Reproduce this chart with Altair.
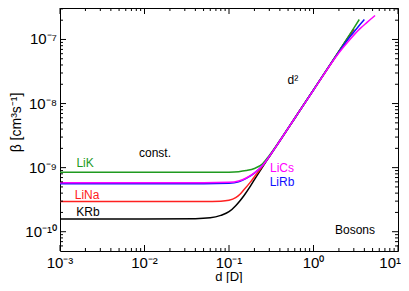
import altair as alt
import pandas as pd

# ---- data ----
series_names = ["KRb", "LiNa", "LiK", "LiRb", "LiCs"]
series_colors = ["#000000", "#ff2020", "#1f9a1f", "#1010ff", "#ff00ff"]

d_KRb = [0.001, 0.01, 0.04, 0.06, 0.08, 0.1, 0.12, 0.135, 0.15, 0.18, 0.2, 0.25, 0.3, 0.4, 0.6, 1.0, 2.0, 3.0]
b_KRb = [1.58e-10, 1.58e-10, 1.6e-10, 1.65e-10, 1.8e-10, 2.05e-10, 2.55e-10, 3.05e-10, 3.65e-10, 5.2e-10,
         6.5e-10, 1.03e-9, 1.48e-9, 2.62e-9, 5.9e-9, 1.64e-8, 6.5e-8, 1.45e-7]

d_LiNa = [0.001, 0.01, 0.05, 0.08, 0.1, 0.12, 0.135, 0.15, 0.18, 0.2, 0.25, 0.3, 0.4, 0.6, 1.0, 2.0, 3.0]
b_LiNa = [2.97e-10, 2.97e-10, 2.97e-10, 3.0e-10, 3.1e-10, 3.4e-10, 3.85e-10, 4.5e-10, 6.0e-10, 7.2e-10,
          1.06e-9, 1.5e-9, 2.63e-9, 5.9e-9, 1.64e-8, 6.5e-8, 1.45e-7]

d_LiK = [0.001, 0.01, 0.05, 0.1, 0.13, 0.16, 0.2, 0.25, 0.3, 0.4, 0.6, 1.0, 2.0, 3.0, 3.48]
b_LiK = [8.45e-10, 8.45e-10, 8.45e-10, 8.5e-10, 8.65e-10, 9.0e-10, 9.7e-10, 1.15e-9, 1.55e-9, 2.65e-9,
         5.9e-9, 1.64e-8, 6.6e-8, 1.5e-7, 2.05e-7]

d_LiRb = [0.001, 0.01, 0.05, 0.1, 0.13, 0.16, 0.2, 0.25, 0.3, 0.4, 0.6, 1.0, 2.0, 2.7, 3.4, 4.0]
b_LiRb = [5.6e-10, 5.6e-10, 5.6e-10, 5.7e-10, 6.0e-10, 6.8e-10, 8.2e-10, 1.08e-9, 1.5e-9, 2.63e-9,
          5.9e-9, 1.63e-8, 6.4e-8, 1.1e-7, 1.6e-7, 2.05e-7]

d_LiCs = [0.001, 0.01, 0.05, 0.1, 0.13, 0.16, 0.2, 0.25, 0.3, 0.4, 0.6, 1.0, 2.0, 2.7, 3.5, 4.3, 5.35]
b_LiCs = [5.8e-10, 5.8e-10, 5.8e-10, 5.9e-10, 6.2e-10, 6.9e-10, 8.3e-10, 1.08e-9, 1.5e-9, 2.63e-9,
          5.9e-9, 1.62e-8, 6.2e-8, 1.0e-7, 1.45e-7, 1.85e-7, 2.37e-7]

x_major = [1e-3, 1e-2, 1e-1, 1e0, 1e1]
x_labels = ["10⁻³", "10⁻²", "10⁻¹", "10⁰", "10¹"]
y_major = [1e-10, 1e-9, 1e-8, 1e-7]
y_labels = ["10⁻¹⁰", "10⁻⁹", "10⁻⁸", "10⁻⁷"]
x_minor = [m * 10 ** e for e in range(-3, 1) for m in range(2, 10)]
y_minor = [m * 10 ** e for e in range(-11, -6) for m in range(2, 10) if 5e-11 <= m * 10 ** e <= 3.1e-7]

ann_text = ["LiK", "LiNa", "KRb", "const.", "LiCs", "LiRb", "d²", "Bosons"]
ann_d = [1.98e-3, 2.09e-3, 2.14e-3, 0.0133, 0.424, 0.424, 0.571, 3.1]
ann_b = [1.2e-9, 3.8e-10, 2.0e-10, 1.71e-9, 1.0e-9, 6.05e-10, 2.37e-8, 1.07e-10]
ann_color = ["#1f9a1f", "#ff2020", "#000000", "#000000", "#ff00ff", "#1010ff", "#000000", "#000000"]

# ---- tables ----
rows = []
for name, ds, bs in [("KRb", d_KRb, b_KRb), ("LiNa", d_LiNa, b_LiNa), ("LiK", d_LiK, b_LiK),
                     ("LiRb", d_LiRb, b_LiRb), ("LiCs", d_LiCs, b_LiCs)]:
    for i, (d, b) in enumerate(zip(ds, bs)):
        rows.append({"series": name, "d": d, "beta": b, "i": i})
df = pd.DataFrame(rows)

W, H = 338, 243
FONT = "Liberation Sans"
xs = alt.Scale(type="log", domain=[1e-3, 10], nice=False)
ys = alt.Scale(type="log", domain=[5e-11, 3.1e-7], nice=False)

lines = alt.Chart(df).mark_line(strokeWidth=1.5, interpolate="monotone", clip=True).encode(
    x=alt.X("d:Q", scale=xs, axis=None),
    y=alt.Y("beta:Q", scale=ys, axis=None),
    color=alt.Color("series:N", scale=alt.Scale(domain=series_names, range=series_colors), legend=None),
    order="i:Q",
)
layers_lines = [lines.transform_filter(alt.datum.series == s) for s in series_names]

# tick labels
xl_df = pd.DataFrame({"d": x_major[:-1], "lab": x_labels[:-1]})
xl_last = pd.DataFrame({"d": x_major[-1:], "lab": x_labels[-1:]})
yl_df = pd.DataFrame({"b": y_major, "lab": y_labels})
xlab_mark = alt.Chart(xl_df).mark_text(fontSize=15, font=FONT, baseline="top", dy=5).encode(
    x=alt.X("d:Q", scale=xs, axis=None), y=alt.value(H), text="lab:N")
xlab_last = alt.Chart(xl_last).mark_text(fontSize=15, font=FONT, baseline="top", dy=5, align="right", dx=3).encode(
    x=alt.X("d:Q", scale=xs, axis=None), y=alt.value(H), text="lab:N")
ylab_mark = alt.Chart(yl_df).mark_text(fontSize=15, font=FONT, align="right", baseline="middle", dx=-3).encode(
    y=alt.Y("b:Q", scale=ys, axis=None), x=alt.value(0), text="lab:N")

# inward ticks on all four sides
def xticks(vals, size):
    t = pd.DataFrame({"d": vals})
    bot = alt.Chart(t).mark_rule(color="#000000", strokeWidth=1).encode(
        x=alt.X("d:Q", scale=xs, axis=None), y=alt.value(H - size), y2=alt.value(H))
    top = alt.Chart(t).mark_rule(color="#000000", strokeWidth=1).encode(
        x=alt.X("d:Q", scale=xs, axis=None), y=alt.value(0), y2=alt.value(size))
    return [bot, top]

def yticks(vals, size):
    t = pd.DataFrame({"b": vals})
    lft = alt.Chart(t).mark_rule(color="#000000", strokeWidth=1).encode(
        y=alt.Y("b:Q", scale=ys, axis=None), x=alt.value(0), x2=alt.value(size))
    rgt = alt.Chart(t).mark_rule(color="#000000", strokeWidth=1).encode(
        y=alt.Y("b:Q", scale=ys, axis=None), x=alt.value(W - size), x2=alt.value(W))
    return [lft, rgt]

ticks = xticks(x_major, 6) + xticks(x_minor, 3) + yticks(y_major, 6) + yticks(y_minor, 3)

ann_df = pd.DataFrame({"t": ann_text, "d": ann_d, "b": ann_b, "c": ann_color})
ann = alt.Chart(ann_df).mark_text(fontSize=12, font=FONT, baseline="middle").encode(
    x=alt.X("d:Q", scale=xs, axis=None), y=alt.Y("b:Q", scale=ys, axis=None),
    text="t:N", color=alt.Color("c:N", scale=None))

xtitle = alt.Chart(pd.DataFrame({"t": ["d [D]"]})).mark_text(fontSize=13, font=FONT, baseline="middle").encode(
    x=alt.value(W / 2), y=alt.value(H + 26), text="t:N")
ytitle = alt.Chart(pd.DataFrame({"t": ["β [cm³s⁻¹]"]})).mark_text(fontSize=14, font=FONT, angle=270, baseline="middle").encode(
    x=alt.value(-43), y=alt.value(H / 2 - 7), text="t:N")

chart = alt.layer(*layers_lines, *ticks, ann, xlab_mark, xlab_last, ylab_mark, xtitle, ytitle).properties(
    width=W, height=H,
    autosize=alt.AutoSizeParams(type="none"),
    padding={"left": 52, "top": 0, "right": 3, "bottom": 32},
).configure_view(stroke="black", strokeWidth=1)

chart.save("out.html", embed_options={"renderer": "svg", "actions": False})
